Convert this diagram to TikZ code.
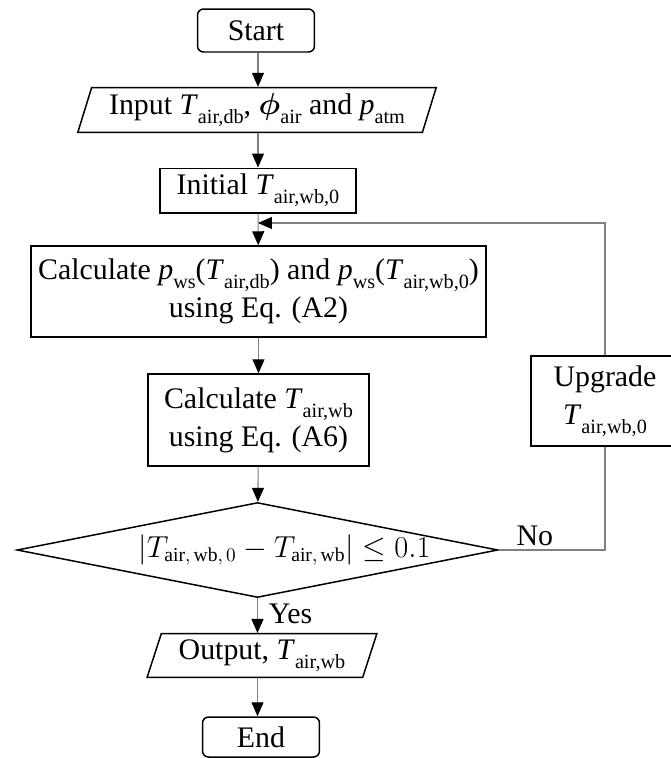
\documentclass[tikz,border=0pt]{standalone}
\usepackage{fontspec}
\setmainfont{Liberation Serif}
\usetikzlibrary{shapes.geometric, arrows.meta, positioning}
\definecolor{LineGray}{HTML}{808080}
% lowered subscript as in the figure
\newcommand{\lo}[1]{\raisebox{-0.3em}{\fontsize{11.5}{12}\selectfont #1}}
\tikzset{
    % Box styles - sharp corners except start/end
    terminal/.style={
        rectangle,
        rounded corners=0.12cm,
        draw=black,
        line width=0.85pt,
        minimum width=2.34cm,
        minimum height=0.86cm,
        align=center
    },
    io/.style={
        trapezium,
        trapezium left angle=74,
        trapezium right angle=106,
        trapezium stretches=true,
        draw=black,
        line width=0.85pt,
        minimum height=0.86cm,
        align=center
    },
    process/.style={
        rectangle,
        draw=black,
        line width=0.85pt,
        align=center
    },
    decision/.style={
        diamond,
        draw=black,
        line width=0.85pt,
        aspect=5,
        inner sep=1pt,
        minimum width=9.62cm,
        minimum height=1.9cm,
        font=\fontsize{16}{19}\selectfont
    },
    % Connector styles
    arrow/.style={
        -{Triangle[length=0.28cm, width=0.24cm, color=black]},
        line width=0.6pt,
        draw=LineGray
    },
    plainline/.style={
        line width=0.6pt,
        draw=LineGray
    }
}

\begin{document}
\begin{tikzpicture}[x=0.02cm, y=-0.02cm, font=\fontsize{17}{21.5}\selectfont]
    \useasboundingbox (0,0) rectangle (671,758);

    \node[terminal] (start) at (256,30.5) {Start};

    \node[io, minimum width=7.18cm] (input) at (257,110) {Input \textit{T}\lo{air,db}, {\boldmath$\phi$}\lo{air} and \textit{p}\lo{atm}};

    \node[process, minimum width=3.92cm, minimum height=0.86cm] (init) at (258,190.5) {Initial \textit{T}\lo{air,wb,0}};

    \coordinate (join) at (258,223);

    \node[process, minimum width=9.1cm, minimum height=1.82cm] (calc) at (258.5,291.5) {Calculate \textit{p}\lo{ws}(\textit{T}\lo{air,db}) and \textit{p}\lo{ws}(\textit{T}\lo{air,wb,0})\\using Eq. (A2)};

    \node[process, minimum width=4.42cm, minimum height=1.84cm] (calcwb) at (258.5,420) {Calculate \textit{T}\lo{air,wb}\\using Eq. (A6)};

    % text sits right of the diamond centre
    \node[decision] (check) at (257.5,550) {\makebox[0pt]{\hspace*{1.08cm}$|T_{\mathrm{air},\,\mathrm{wb},\,0} - T_{\mathrm{air},\,\mathrm{wb}}| \le 0.1$}};

    \node[io, minimum width=4.6cm] (output) at (262,655.5) {Output, \textit{T}\lo{air,wb}};

    \node[terminal, minimum height=0.8cm] (end) at (261,737) {End};

    \node[process, minimum width=2.96cm, minimum height=1.8cm] (upgrade) at (605,401) {Upgrade\\\textit{T}\lo{air,wb,0}};

    \draw[arrow] (start.south -| init) -- (init |- input.north);
    \draw[arrow] (init |- input.south) -- (init);
    \draw[arrow] (init) -- (calc);
    \draw[arrow] (calc) -- (calcwb);
    \draw[arrow] (calcwb) -- (check);
    \draw[arrow] (check.south) -- node[right, pos=0.45, xshift=0.1cm]{Yes} (check.south |- output.north);
    \draw[arrow] (check.south |- output.south) -- (check.south |- end.north);
    \draw[plainline] (check.east) -| node[above, pos=0.17, inner sep=2pt]{No} (upgrade.south);
    \draw[arrow] (upgrade.north) |- (join);
\end{tikzpicture}
\end{document}
